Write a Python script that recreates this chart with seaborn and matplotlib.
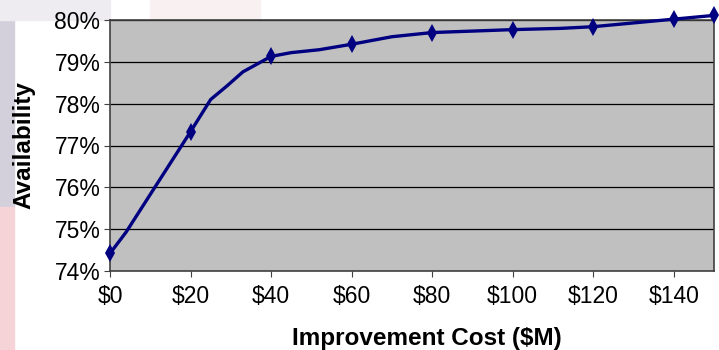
import matplotlib
matplotlib.use("Agg")
import matplotlib.pyplot as plt
import seaborn as sns
from matplotlib.patches import Rectangle
from matplotlib.ticker import FuncFormatter

# data
cost = [0, 4, 20, 25, 29, 33, 40, 45, 52, 60, 70, 80, 100, 112, 120, 140, 150]
availability = [74.42, 74.93, 77.33, 78.10, 78.42, 78.76, 79.13, 79.22, 79.29, 79.42,
                79.60, 79.70, 79.77, 79.80, 79.84, 80.02, 80.11]
marked = [0, 2, 6, 9, 11, 12, 14, 15, 16]  # points that carry a diamond

x_ticks = [0, 20, 40, 60, 80, 100, 120, 140]
y_ticks = [74, 75, 76, 77, 78, 79, 80]

#%%
sns.set_style("white")
plt.rcParams['font.family'] = ['Liberation Sans', 'DejaVu Sans']
plt.rcParams['text.color'] = 'black'
plt.rcParams['xtick.color'] = 'black'
plt.rcParams['ytick.color'] = 'black'

fig = plt.figure(figsize=(7.19, 3.5), dpi=100)

# faded slide background behind the chart
fig.patches.append(Rectangle((0, 0.41), 14 / 719, 0.59, transform=fig.transFigure,
                             color='#d3d0db', zorder=-3))
fig.patches.append(Rectangle((0, 0), 14 / 719, 0.41, transform=fig.transFigure,
                             color='#f6d3d6', zorder=-3))
fig.patches.append(Rectangle((0, 330 / 350), 110 / 719, 20 / 350, transform=fig.transFigure,
                             color='#eeecf1', zorder=-3))
fig.patches.append(Rectangle((150 / 719, 330 / 350), 110 / 719, 20 / 350, transform=fig.transFigure,
                             color='#f8f0f1', zorder=-3))

ax = fig.add_axes([110 / 719, 79 / 350, 604 / 719, 251 / 350])
ax.set_facecolor('#c0c0c0')

sns.lineplot(x=cost, y=availability, ax=ax, color='#000080', linewidth=2.4,
             marker='d', markersize=9, markevery=marked, markeredgewidth=0,
             clip_on=False, zorder=5)

ax.set_xlim(0, 150)
ax.set_ylim(74, 80)
ax.set_xticks(x_ticks)
ax.set_yticks(y_ticks)
ax.xaxis.set_major_formatter(FuncFormatter(lambda v, p: f'${v:.0f}'))
ax.yaxis.set_major_formatter(FuncFormatter(lambda v, p: f'{v:.0f}%'))
ax.grid(axis='y', color='black', linewidth=0.9)
ax.tick_params(axis='both', length=4, width=0.8, color='#404040', direction='out',
               labelsize=16.5, pad=3, bottom=True, left=True, labelcolor='black')
ax.tick_params(axis='x', pad=6)
for s in ax.spines.values():
    s.set_color('#404040')
    s.set_linewidth(1.2)

ax.set_xlabel('')
ax.set_ylabel('')
fig.text(427 / 719, 12 / 350, 'Improvement Cost ($M)', ha='center', va='center',
         fontsize=17.5, fontweight='bold', color='black')
fig.text(24 / 719, 0.585, 'Availability', ha='center', va='center', rotation=90,
         fontsize=17.5, fontweight='bold', color='black')

fig.savefig('out.png', dpi=100)
